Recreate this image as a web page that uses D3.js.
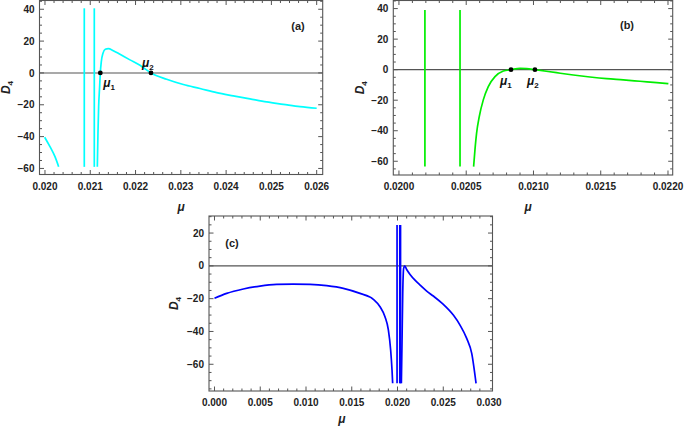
<!DOCTYPE html>
<html>
<head>
<meta charset="utf-8">
<script src="https://cdn.jsdelivr.net/npm/d3@7"></script>
<style>
  body { margin: 0; background: #fff; }
  svg { display: block; font-family: "Liberation Sans", Arial, sans-serif; }
  .tick-label { font-size: 10px; font-weight: bold; fill: #222; }
</style>
</head>
<body>
<div id="chart"></div>
<script>
// ---- panel (a) ----
const aLeftMu   = [0.019993, 0.020110, 0.020221, 0.020302];
const aLeftD4   = [-40.4, -46.3, -52.6, -58.9];
const aMainMu   = [0.021156, 0.021170, 0.021185, 0.021207, 0.021222, 0.021244, 0.021281, 0.021332, 0.021399,
                   0.021509, 0.021656, 0.021877, 0.022098, 0.022341, 0.022687, 0.023055, 0.023423, 0.023792,
                   0.024159, 0.024527, 0.024896, 0.025263, 0.025632, 0.026000];
const aMainD4   = [-58.9, -37.9, -21.2, -8.6, 0, 7.1, 12.4, 14.9, 15.3,
                   14.0, 11.7, 8.2, 4.8, 0, -4.0, -7.3, -9.8, -12.4,
                   -14.4, -16.3, -18.2, -19.7, -21.2, -22.2];
const aPoleMu   = [0.020868, 0.021089];
const aPoleD4   = [40.6, -59];
const aRootsMu  = [0.021222, 0.022341];
const aXTicks   = [0.020, 0.021, 0.022, 0.023, 0.024, 0.025, 0.026];
const aYTicks   = [-60, -40, -20, 0, 20, 40];

// ---- panel (b) ----
const bMainMu   = [0.020555, 0.020565, 0.020577, 0.020597, 0.020627, 0.020664, 0.020714, 0.020776, 0.020833,
                   0.020900, 0.020949, 0.021011, 0.021172, 0.021296, 0.021420, 0.021544, 0.021668, 0.021792,
                   0.021916, 0.022003];
const bMainD4   = [-63.5, -52.5, -41.7, -30.8, -19.8, -11.1, -4.6, -0.9, 0,
                   0.9, 0.7, 0, -2.0, -3.5, -4.8, -5.9, -6.7, -7.6,
                   -8.5, -9.2];
const bPoleMu   = [0.020193, 0.020454];
const bPoleD4   = [39.1, -63.5];
const bRootsMu  = [0.020833, 0.021011];
const bXTicks   = [0.0200, 0.0205, 0.0210, 0.0215, 0.0220];
const bYTicks   = [-60, -40, -20, 0, 20, 40];

// ---- panel (c) ----
const cLeftMu   = [0.00000, 0.00133, 0.00315, 0.00497, 0.00679, 0.00861, 0.01044, 0.01226, 0.01408,
                   0.01590, 0.01736, 0.01809, 0.01863, 0.01900, 0.01925, 0.01940, 0.01947];
const cLeftD4   = [-19.8, -16.8, -14.1, -12.3, -11.3, -11.1, -11.3, -12.1, -13.7,
                   -16.8, -20.4, -24.9, -31.0, -39.1, -51.3, -63.5, -71.6];
const cRightMu  = [0.02042, 0.02049, 0.02057, 0.02067, 0.02078, 0.02100, 0.02137, 0.02191, 0.02246,
                   0.02319, 0.02391, 0.02501, 0.02610, 0.02683, 0.02756, 0.02811, 0.02858];
const cRightD4  = [-71.6, -47.3, -16.8, -1.5, 0, -2.2, -5.2, -8.7, -11.7,
                   -15.4, -18.4, -23.5, -30.0, -36.1, -44.2, -53.4, -71.6];
const cPoleMu   = [0.01995, 0.02025, 0.02033];
const cPoleD4   = [24.9, -71.6];
const cXTicks   = [0.000, 0.005, 0.010, 0.015, 0.020, 0.025, 0.030];
const cYTicks   = [-60, -40, -20, 0, 20];

const width = 685, height = 429;

const svg = d3.select('#chart').append('svg')
  .attr('width', width)
  .attr('height', height);

function zip(xs, ys) { return xs.map((x, i) => [x, ys[i]]); }

function drawPanel(p) {
  const x = d3.scaleLinear().domain(p.xDomain).range([p.left, p.right]);
  const y = d3.scaleLinear().domain(p.yDomain).range([p.bottom, p.top]);
  const g = svg.append('g');

  // zero line
  g.append('line')
    .attr('x1', p.left).attr('x2', p.right)
    .attr('y1', y(0)).attr('y2', y(0))
    .style('stroke', '#555').style('stroke-width', 1.1);

  const line = d3.line()
    .x(d => x(d[0])).y(d => y(d[1]))
    .curve(d3.curveMonotoneX);

  p.branches.forEach(b => {
    g.append('path')
      .attr('d', line(b))
      .style('fill', 'none')
      .style('stroke', p.color)
      .style('stroke-width', 1.7);
  });

  p.poles.forEach(m => {
    g.append('line')
      .attr('x1', x(m)).attr('x2', x(m))
      .attr('y1', y(p.poleRange[0])).attr('y2', y(p.poleRange[1]))
      .style('stroke', p.color).style('stroke-width', 1.7);
  });

  // frame and ticks
  const minorX = d3.range(p.xDomain[0], p.xDomain[1], p.xMinor)
    .map(v => Math.round(v / p.xMinor) * p.xMinor)
    .filter(v => v >= p.xDomain[0] && v <= p.xDomain[1]);
  const minorY = d3.range(Math.ceil(p.yDomain[0] / 5) * 5, p.yDomain[1], 5);

  const tk = g.append('g').style('stroke', '#555').style('stroke-width', 1);
  minorX.forEach(v => {
    const isMajor = p.xTicks.some(t => Math.abs(t - v) < p.xMinor / 10);
    const len = isMajor ? 4.5 : 2.5;
    tk.append('line').attr('x1', x(v)).attr('x2', x(v)).attr('y1', p.bottom).attr('y2', p.bottom - len);
    tk.append('line').attr('x1', x(v)).attr('x2', x(v)).attr('y1', p.top).attr('y2', p.top + len);
  });
  minorY.forEach(v => {
    const len = (v % 20 === 0) ? 4.5 : 2.5;
    tk.append('line').attr('y1', y(v)).attr('y2', y(v)).attr('x1', p.left).attr('x2', p.left + len);
    tk.append('line').attr('y1', y(v)).attr('y2', y(v)).attr('x1', p.right).attr('x2', p.right - len);
  });

  g.append('rect')
    .attr('x', p.left).attr('y', p.top)
    .attr('width', p.right - p.left).attr('height', p.bottom - p.top)
    .style('fill', 'none').style('stroke', '#555').style('stroke-width', 1.1);

  const fx = d3.format(p.xFormat), fy = d3.format('d');
  g.selectAll('.xl').data(p.xTicks).enter().append('text')
    .attr('class', 'tick-label')
    .attr('x', d => x(d)).attr('y', p.bottom + 15)
    .attr('text-anchor', 'middle')
    .text(d => fx(d));
  g.selectAll('.yl').data(p.yTicks).enter().append('text')
    .attr('class', 'tick-label')
    .attr('x', p.left - 5).attr('y', d => y(d) + 3.6)
    .attr('text-anchor', 'end')
    .text(d => fy(d));

  // axis titles
  g.append('text')
    .attr('x', (p.left + p.right) / 2 + p.muShift).attr('y', p.muY)
    .attr('text-anchor', 'middle')
    .style('font-size', '12px').style('font-weight', 'bold').style('font-style', 'italic').style('fill', '#222')
    .text('μ');
  const yt = g.append('text')
    .attr('transform', `translate(${p.left - p.d4Gap},${(p.top + p.bottom) / 2}) rotate(-90)`)
    .attr('text-anchor', 'middle')
    .style('font-size', '12px').style('font-weight', 'bold').style('font-style', 'italic').style('fill', '#222');
  yt.append('tspan').text('D');
  yt.append('tspan').attr('dy', 3).style('font-size', '8px').style('font-style', 'normal').text('4');

  g.append('text')
    .attr('x', p.tag[0]).attr('y', p.tag[1])
    .attr('text-anchor', 'middle')
    .style('font-size', '11px').style('font-weight', 'bold').style('fill', '#222')
    .text(p.label);

  // roots
  p.roots.forEach((r, i) => {
    g.append('circle').attr('cx', x(r)).attr('cy', y(0)).attr('r', 2.4).style('fill', '#000');
    const t = g.append('text')
      .attr('x', x(r) + p.rootOffsets[i][0]).attr('y', y(0) + p.rootOffsets[i][1])
      .style('font-size', '12px').style('font-weight', 'bold').style('font-style', 'italic').style('fill', '#111');
    t.append('tspan').text('μ');
    t.append('tspan').attr('dy', 3).style('font-size', '8px').style('font-style', 'normal').text(String(i + 1));
  });
}

drawPanel({
  left: 39.5, right: 322.7, top: 0.5, bottom: 174.5,
  xDomain: [0.019879, 0.026133], yDomain: [-63.8, 45.5],
  xTicks: aXTicks, yTicks: aYTicks, xMinor: 0.0002, xFormat: '.3f',
  color: '#00ffff',
  branches: [zip(aLeftMu, aLeftD4), zip(aMainMu, aMainD4)],
  poles: aPoleMu, poleRange: aPoleD4,
  roots: aRootsMu, rootOffsets: [[3, 14], [-9, -6]],
  label: '(a)', tag: [298, 30], muShift: 0, muY: 210.5, d4Gap: 29.5
});

drawPanel({
  left: 393.3, right: 672.7, top: 0.5, bottom: 175,
  xDomain: [0.019958, 0.022035], yDomain: [-69.0, 45.3],
  xTicks: bXTicks, yTicks: bYTicks, xMinor: 0.0001, xFormat: '.4f',
  color: '#00ee00',
  branches: [zip(bMainMu, bMainD4)],
  poles: bPoleMu, poleRange: bPoleD4,
  roots: bRootsMu, rootOffsets: [[-11, 15], [-8, 15]],
  label: '(b)', tag: [627, 29], muShift: -5, muY: 210.5, d4Gap: 29
});

drawPanel({
  left: 209, right: 492.5, top: 216, bottom: 391,
  xDomain: [-0.00060, 0.03038], yDomain: [-76.3, 30.4],
  xTicks: cXTicks, yTicks: cYTicks, xMinor: 0.001, xFormat: '.3f',
  color: '#0000ff',
  branches: [zip(cLeftMu, cLeftD4), zip(cRightMu, cRightD4)],
  poles: cPoleMu, poleRange: cPoleD4,
  roots: [], rootOffsets: [],
  label: '(c)', tag: [232, 247], muShift: -9, muY: 423, d4Gap: 31
});
</script>
</body>
</html>
